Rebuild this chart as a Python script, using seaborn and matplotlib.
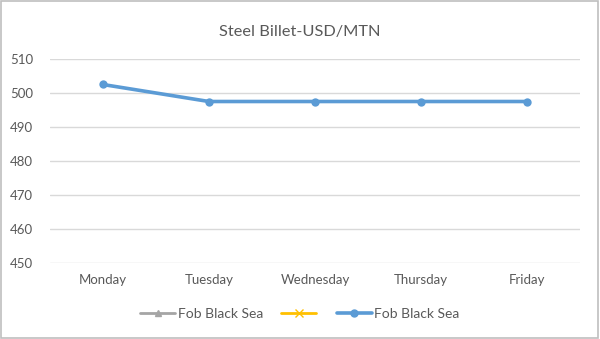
import matplotlib
matplotlib.use("Agg")
import matplotlib.pyplot as plt
from matplotlib.lines import Line2D
from matplotlib.patches import Rectangle
import seaborn as sns
import pandas as pd
import numpy as np

days = ["Monday", "Tuesday", "Wednesday", "Thursday", "Friday"]
fob_black_sea = [502.5, 497.5, 497.5, 497.5, 497.5]
y_ticks = [450, 460, 470, 480, 490, 500, 510]
series_labels = ["Fob Black Sea", "", "Fob Black Sea"]

sns.set_theme(style="white")
plt.rcParams["font.family"] = ["Lato", "DejaVu Sans"]

text_color = "#595959"
blue = "#5B9BD5"
grid_color = "#D9D9D9"

fig = plt.figure(figsize=(6.0, 3.39), dpi=100)
ax = fig.add_axes([0.083, 0.224, 0.884, 0.602])

df = pd.DataFrame({"day": days, "price": fob_black_sea})
df["pos"] = np.arange(len(days))
sns.lineplot(data=df, x="pos", y="price", ax=ax, color=blue, linewidth=2.6,
             marker="o", markersize=6, markeredgewidth=0, legend=False)

ax.set_xlim(-0.5, len(days) - 0.5)
ax.set_ylim(y_ticks[0], y_ticks[-1])
ax.set_yticks(y_ticks)
ax.set_xticks(range(len(days)))
ax.set_xticklabels(days)
ax.set_xlabel("")
ax.set_ylabel("")
ax.yaxis.grid(True, color=grid_color, linewidth=1)
ax.xaxis.grid(False)
for s in ax.spines.values():
    s.set_visible(False)
ax.tick_params(axis="both", length=0, labelsize=9.5, colors=text_color, pad=8)
ax.tick_params(axis="y", pad=12)

fig.text(0.5, 0.905, "Steel Billet-USD/MTN", ha="center", va="center",
         fontsize=11.8, color=text_color)

handles = [
    Line2D([], [], color="#A5A5A5", linewidth=2, marker="^", markersize=5),
    Line2D([], [], color="#FFC000", linewidth=2, marker="x", markersize=6),
    Line2D([], [], color=blue, linewidth=2.6, marker="o", markersize=5),
]
leg = fig.legend(handles, series_labels, loc="center", bbox_to_anchor=(0.5, 0.075),
                 ncol=3, frameon=False, fontsize=10, handlelength=2.5,
                 columnspacing=1.3, handletextpad=0.2)
for t in leg.get_texts():
    t.set_color(text_color)

fig.patches.append(Rectangle((0.002, 0.003), 0.995, 0.994, transform=fig.transFigure,
                             fill=False, edgecolor="#BFBFBF", linewidth=1.2))

fig.savefig("out.png", dpi=100)
